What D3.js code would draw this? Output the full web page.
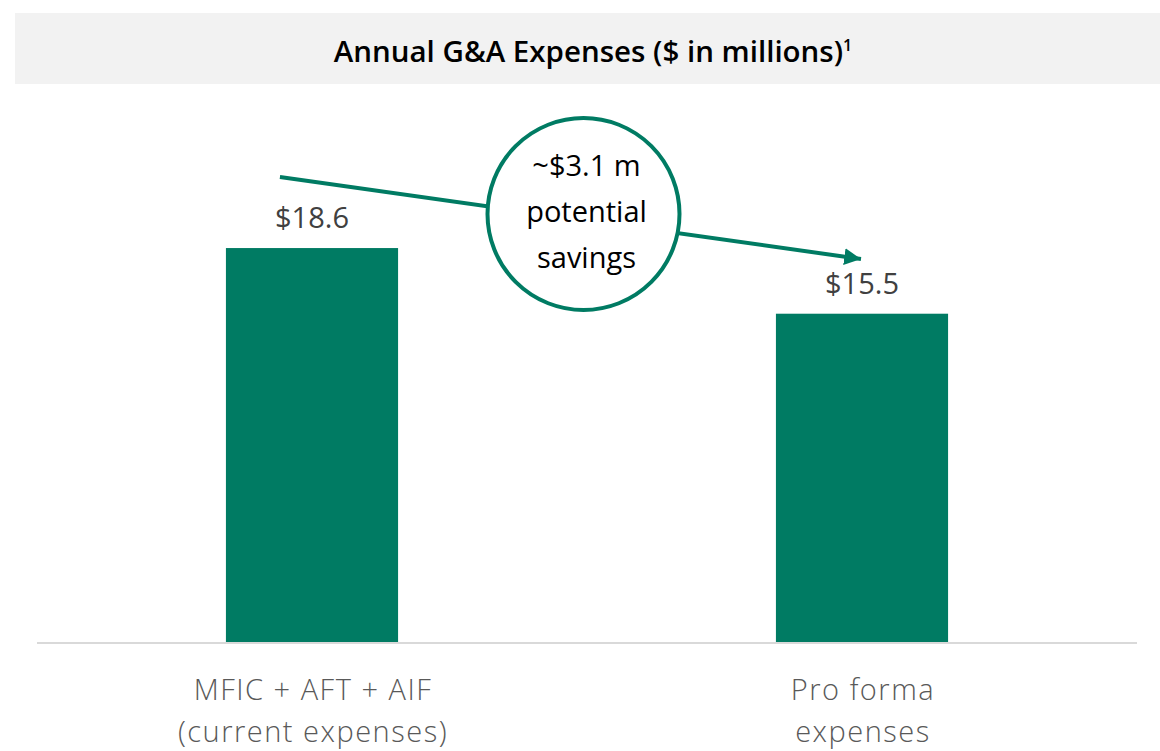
<!DOCTYPE html>
<html>
<head>
<meta charset="utf-8">
<script src="https://cdn.jsdelivr.net/npm/d3@7"></script>
<style>
  body { margin: 0; background: #fff; }
  svg { display: block; font-family: "Open Sans", "Noto Sans", sans-serif; }
</style>
</head>
<body>
<div class="container"></div>
<script>
// chart data
const categories = ["MFIC + AFT + AIF|(current expenses)", "Pro forma|expenses"];
const values = [18.6, 15.5];
const valueLabels = ["$18.6", "$15.5"];
const titleText = "Annual G&A Expenses ($ in millions)";
const titleNote = "1";
const savingsLines = ["~$3.1 m", "potential", "savings"];

const W = 1160, H = 751;
const green = "#007b63";

const svg = d3.select(".container")
  .append("svg")
  .attr("width", W)
  .attr("height", H);

// title band
svg.append("rect")
  .attr("x", 15).attr("y", 13)
  .attr("width", W - 15).attr("height", 71)
  .attr("fill", "#f2f2f2");

let title = svg.append("text")
  .attr("x", 593).attr("y", 62)
  .attr("text-anchor", "middle")
  .attr("font-size", 29.5)
  .attr("font-weight", 600)
  .attr("fill", "#000");
title.append("tspan").text(titleText);
title.append("tspan").attr("font-size", 16).attr("dy", -11).text(titleNote);

// scales
const x = d3.scaleBand()
  .domain(categories)
  .range([37, 1137])
  .paddingInner(0.687)
  .paddingOuter(0.3435);

const y = d3.scaleLinear()
  .domain([0, 20])
  .range([642, 218.4]);

// bars
svg.selectAll("rect.bar")
  .data(values)
  .enter()
  .append("rect")
  .attr("class", "bar")
  .attr("x", (d, i) => x(categories[i]))
  .attr("y", d => y(d))
  .attr("width", x.bandwidth())
  .attr("height", d => y(0) - y(d))
  .attr("fill", green);

// baseline
svg.append("line")
  .attr("x1", 37).attr("x2", 1137)
  .attr("y1", y(0) + 1).attr("y2", y(0) + 1)
  .attr("stroke", "#d9d9d9")
  .attr("stroke-width", 2);

// value labels
svg.selectAll("text.val")
  .data(values)
  .enter()
  .append("text")
  .attr("class", "val")
  .attr("x", (d, i) => x(categories[i]) + x.bandwidth() / 2)
  .attr("y", d => y(d) - 20)
  .attr("text-anchor", "middle")
  .attr("font-size", 29)
  .attr("fill", "#404040")
  .text((d, i) => valueLabels[i]);

// category labels
let cats = svg.selectAll("text.cat")
  .data(categories)
  .enter()
  .append("text")
  .attr("class", "cat")
  .attr("text-anchor", "middle")
  .attr("font-size", 29)
  .attr("font-weight", 300)
  .attr("letter-spacing", 1.5)
  .attr("fill", "#595959");

cats.each(function(c) {
  let cx = x(c) + x.bandwidth() / 2 + 1;
  c.split("|").forEach((line, j) => {
    d3.select(this).append("tspan")
      .attr("x", cx)
      .attr("y", 700 + j * 42)
      .text(line);
  });
});

// savings arrow, from above the first bar to above the second
const x0 = x(categories[0]) + 54, y0 = 177;
const x1 = x(categories[1]) + x.bandwidth() / 2 - 1, y1 = 259;

svg.append("defs").append("marker")
  .attr("id", "head")
  .attr("viewBox", "0 0 10 10")
  .attr("refX", 10).attr("refY", 5)
  .attr("markerWidth", 4.2).attr("markerHeight", 4.6)
  .attr("markerUnits", "strokeWidth")
  .attr("orient", "auto")
  .append("path")
  .attr("d", "M0,0 L10,5 L0,10 Z")
  .attr("fill", green);

svg.append("line")
  .attr("x1", x0).attr("y1", y0)
  .attr("x2", x1).attr("y2", y1)
  .attr("stroke", green)
  .attr("stroke-width", 4)
  .attr("marker-end", "url(#head)");

// circle with savings text
const cx = 583.5, cy = 214;
svg.append("circle")
  .attr("cx", cx).attr("cy", cy)
  .attr("r", 96)
  .attr("fill", "#fff")
  .attr("stroke", green)
  .attr("stroke-width", 4);

svg.selectAll("text.sav")
  .data(savingsLines)
  .enter()
  .append("text")
  .attr("class", "sav")
  .attr("x", cx + 3)
  .attr("y", (d, i) => 176 + i * 46)
  .attr("text-anchor", "middle")
  .attr("font-size", 29)
  .attr("fill", "#000")
  .text(d => d);
</script>
</body>
</html>
